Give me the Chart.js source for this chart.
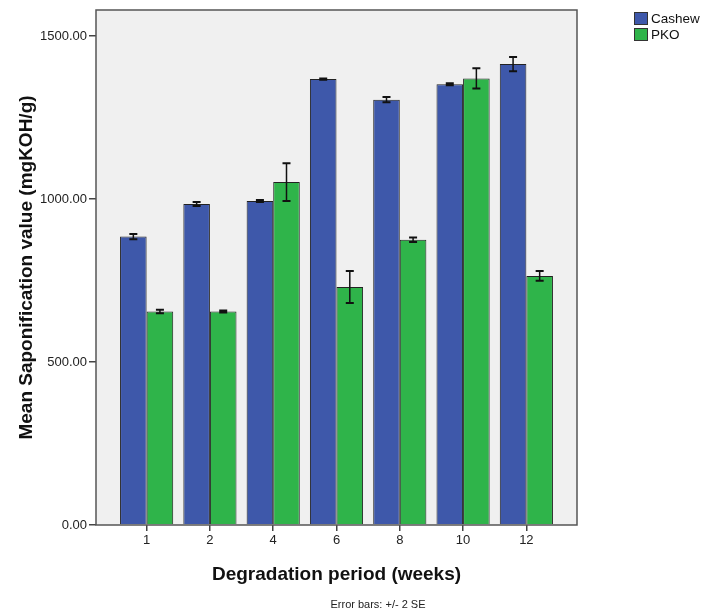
<!DOCTYPE html>
<html>
<head>
<meta charset="utf-8">
<script src="https://cdn.jsdelivr.net/npm/chart.js@4"></script>
<style>
  html, body { margin: 0; padding: 0; background: #ffffff; }
  #wrap { width: 702px; height: 614px; }
</style>
</head>
<body>
<div id="wrap"><canvas id="myChart" width="702" height="614"></canvas></div>
<script>
// Datos
const weeks = ["1", "2", "4", "6", "8", "10", "12"];
const cashew = [885, 985, 994, 1368, 1305, 1352, 1414];
const cashewErr = [8, 6, 3, 2, 8, 3, 22];
const pko = [655, 655, 1052, 730, 875, 1370, 764];
const pkoErr = [5, 3, 58, 49, 7, 31, 15];
const yTicks = [0, 500, 1000, 1500];

const FONT = "Arial, 'Liberation Sans', sans-serif";

// Fondo gris y marco del área de trazado
const plotBox = {
  id: "plotBox",
  beforeDatasetsDraw(chart) {
    const { ctx, chartArea: a } = chart;
    ctx.save();
    ctx.fillStyle = "#f0f0f0";
    ctx.fillRect(a.left, a.top, a.right - a.left, a.bottom - a.top);
    ctx.restore();
  },
  afterDatasetsDraw(chart) {
    const { ctx, chartArea: a } = chart;
    ctx.save();
    ctx.strokeStyle = "#555555";
    ctx.lineWidth = 1.5;
    ctx.strokeRect(a.left, a.top, a.right - a.left, a.bottom - a.top);
    ctx.restore();
  },
};

// Barras de error (+/- 2 SE)
const errorBars = {
  id: "errorBars",
  afterDatasetsDraw(chart) {
    const { ctx } = chart;
    const y = chart.scales.y;
    ctx.save();
    ctx.strokeStyle = "#111111";
    chart.data.datasets.forEach(function (ds, di) {
      const meta = chart.getDatasetMeta(di);
      meta.data.forEach(function (bar, i) {
        const v = ds.data[i].y;
        const e = ds.errors[i];
        const top = y.getPixelForValue(v + e);
        const bot = y.getPixelForValue(v - e);
        ctx.lineWidth = 1.5;
        ctx.beginPath();
        ctx.moveTo(bar.x, top);
        ctx.lineTo(bar.x, bot);
        ctx.stroke();
        ctx.lineWidth = 2;
        ctx.beginPath();
        ctx.moveTo(bar.x - 4, top);
        ctx.lineTo(bar.x + 4, top);
        ctx.moveTo(bar.x - 4, bot);
        ctx.lineTo(bar.x + 4, bot);
        ctx.stroke();
      });
    });
    ctx.restore();
  },
};

// Leyenda y nota al pie
const extras = {
  id: "extras",
  afterDraw(chart) {
    const { ctx } = chart;
    ctx.save();
    chart.data.datasets.forEach(function (ds, i) {
      const bx = 634;
      const by = 12 + i * 16;
      ctx.fillStyle = ds.backgroundColor;
      ctx.fillRect(bx, by, 14, 13);
      ctx.strokeStyle = "#333333";
      ctx.lineWidth = 1;
      ctx.strokeRect(bx + 0.5, by + 0.5, 13, 12);
      ctx.fillStyle = "#111111";
      ctx.font = "13.5px " + FONT;
      ctx.textBaseline = "middle";
      ctx.textAlign = "left";
      ctx.fillText(ds.label, bx + 17, by + 7);
    });
    ctx.font = "11px " + FONT;
    ctx.fillStyle = "#222222";
    ctx.textAlign = "center";
    ctx.textBaseline = "middle";
    ctx.fillText("Error bars: +/- 2 SE", 378, 605);
    ctx.restore();
  },
};

const ctx = document.getElementById("myChart").getContext("2d");
const myChart = new Chart(ctx, {
  type: "bar",
  data: {
    datasets: [
      {
        label: "Cashew",
        data: cashew.map((v, i) => ({ x: i, y: v })),
        errors: cashewErr,
        backgroundColor: "#3e58aa",
        borderColor: "#222222",
        borderWidth: 1,
      },
      {
        label: "PKO",
        data: pko.map((v, i) => ({ x: i, y: v })),
        errors: pkoErr,
        backgroundColor: "#2fb44a",
        borderColor: "#222222",
        borderWidth: 1,
      },
    ],
  },
  options: {
    responsive: false,
    animation: false,
    categoryPercentage: 0.84,
    barPercentage: 1,
    layout: { padding: { left: 0, right: 125, top: 10, bottom: 0 } },
    plugins: {
      legend: { display: false },
      tooltip: { enabled: false },
    },
    scales: {
      x: {
        type: "linear",
        offset: false,
        min: -0.8,
        max: 6.8,
        afterBuildTicks: (axis) => {
          axis.ticks = weeks.map((w, i) => ({ value: i }));
        },
        afterFit: (axis) => {
          axis.height = 89;
        },
        ticks: {
          callback: (v) => weeks[v],
          color: "#222222",
          font: { size: 13, family: FONT },
          padding: 2,
          maxRotation: 0,
        },
        grid: {
          offset: false,
          drawOnChartArea: false,
          drawTicks: true,
          tickLength: 6,
          color: "#444444",
          lineWidth: 1.5,
        },
        border: { display: false },
        title: {
          display: true,
          text: "Degradation period (weeks)",
          color: "#111111",
          font: { size: 19, weight: "bold", family: FONT },
          padding: { top: 0, bottom: 28 },
        },
      },
      y: {
        min: 0,
        max: 1580,
        afterBuildTicks: (axis) => {
          axis.ticks = yTicks.map((v) => ({ value: v }));
        },
        afterFit: (axis) => {
          axis.width = 96;
        },
        ticks: {
          callback: (v) => v.toFixed(2),
          color: "#222222",
          font: { size: 13, family: FONT },
          padding: 2,
        },
        grid: {
          drawOnChartArea: false,
          drawTicks: true,
          tickLength: 7,
          color: "#444444",
          lineWidth: 1.5,
        },
        border: { display: false },
        title: {
          display: true,
          text: "Mean Saponification value (mgKOH/g)",
          color: "#111111",
          font: { size: 19, weight: "bold", family: FONT },
          padding: { top: 15, bottom: 0 },
        },
      },
    },
  },
  plugins: [plotBox, errorBars, extras],
});
</script>
</body>
</html>
